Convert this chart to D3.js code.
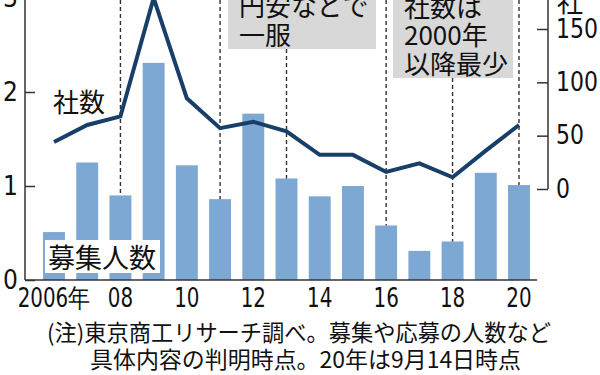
<!DOCTYPE html>
<html>
<head>
<meta charset="utf-8">
<script src="https://cdn.jsdelivr.net/npm/d3@7"></script>
<style>
  body { margin: 0; background: #fff; }
  svg { display: block; }
  .num { font-family: "Liberation Sans Narrow", "DejaVu Sans Condensed", "Liberation Sans", sans-serif; }
  .jp { font-family: "Noto Sans CJK JP", sans-serif; }
</style>
</head>
<body>
<div id="chart"></div>
<script>
// data
const years = [2006, 2007, 2008, 2009, 2010, 2011, 2012, 2013, 2014, 2015, 2016, 2017, 2018, 2019, 2020];
const recruits = [0.51, 1.25, 0.90, 2.31, 1.22, 0.86, 1.77, 1.08, 0.89, 1.00, 0.58, 0.31, 0.41, 1.14, 1.01]; // 募集人数 (left axis)
const companies = [44, 60, 68, 179, 85, 57, 63, 54, 32, 32, 16, 24, 11, 36, 60]; // 社数 (right axis)
const leftTicks = [0, 1, 2, 3];
const rightTicks = [0, 50, 100, 150];
const xTickYears = [2006, 2008, 2010, 2012, 2014, 2016, 2018, 2020];
const dashedYears = [2008, 2011, 2013, 2016, 2018, 2020];
const notes = ["(注)東京商工リサーチ調べ。募集や応募の人数など", "具体内容の判明時点。20年は9月14日時点"];

const width = 600, height = 375;

const svg = d3.select("#chart").append("svg")
    .attr("width", width)
    .attr("height", height);

const x = d3.scaleBand()
    .domain(years)
    .range([37.4, 535.6])
    .paddingInner(0.34)
    .paddingOuter(0.17);

const yL = d3.scaleLinear().domain([0, 3]).range([280, -2]);
const yR = d3.scaleLinear().domain([0, 150]).range([189, 29]);

const cx = d => x(d) + x.bandwidth() / 2;

// bars
svg.append("g").selectAll("rect")
    .data(years)
    .join("rect")
    .attr("x", d => x(d))
    .attr("width", x.bandwidth())
    .attr("y", (d, i) => yL(recruits[i]))
    .attr("height", (d, i) => yL(0) - yL(recruits[i]))
    .attr("fill", "#7ea8d4");

// annotation boxes (top clipped in the original)
const boxes = [
    { x0: 228, x1: 376, bottom: 49, lines: ["円安などで", "一服"] },
    { x0: 393, x1: 513, bottom: 78, lines: ["社数は", "2000年", "以降最少"] }
];

// dashed guide lines
const boxFor = { 2013: boxes[0], 2018: boxes[1] };
svg.append("g").selectAll("line")
    .data(dashedYears)
    .join("line")
    .attr("x1", cx).attr("x2", cx)
    .attr("y1", d => boxFor[d] ? boxFor[d].bottom : 0)
    .attr("y2", d => yL(recruits[years.indexOf(d)]))
    .attr("stroke", "#333")
    .attr("stroke-width", 1.4)
    .attr("stroke-dasharray", "4,3");

boxes.forEach(b => {
    const g = svg.append("g");
    g.append("rect")
        .attr("x", b.x0).attr("y", -10)
        .attr("width", b.x1 - b.x0).attr("height", b.bottom + 10)
        .attr("fill", "#d8d8d8");
    g.selectAll("text")
        .data(b.lines)
        .join("text")
        .attr("class", "jp")
        .attr("x", b.x0 + 11)
        .attr("y", (d, i) => b.bottom - 16 - (b.lines.length - 1 - i) * 28.5)
        .attr("dominant-baseline", "central")
        .attr("font-size", 26)
        .attr("fill", "#111")
        .text(d => d);
});

// company count line
const line = d3.line()
    .x((d, i) => cx(years[i]))
    .y(d => yR(d));

svg.append("path")
    .datum(companies)
    .attr("d", line)
    .attr("fill", "none")
    .attr("stroke", "#173f68")
    .attr("stroke-width", 4)
    .attr("stroke-linejoin", "miter");

// left axis
const axL = svg.append("g")
    .attr("transform", "translate(25,0)")
    .call(d3.axisLeft(yL).tickValues(leftTicks).tickSize(-10).tickPadding(7).tickFormat(d3.format("d")));
axL.select(".domain").remove();
axL.append("line").attr("y1", 0).attr("y2", 280).attr("stroke", "#333").attr("stroke-width", 1.5);

// right axis
const axR = svg.append("g")
    .attr("transform", "translate(548,0)")
    .call(d3.axisRight(yR).tickValues(rightTicks).tickSize(-11).tickPadding(8));
axR.select(".domain").remove();
axR.append("line").attr("y1", 0).attr("y2", 189).attr("stroke", "#333").attr("stroke-width", 1.5);

// bottom axis
const axB = svg.append("g")
    .attr("transform", "translate(0,280)")
    .call(d3.axisBottom(x).tickValues(xTickYears).tickSize(0).tickPadding(7)
        .tickFormat(d => d === 2006 ? "2006年" : String(d).slice(2)));
axB.select(".domain").remove();
axB.append("line").attr("x1", 25).attr("x2", 537).attr("stroke", "#333").attr("stroke-width", 1.5);

[axL, axR, axB].forEach(a => {
    a.selectAll(".tick line").attr("stroke", "#333").attr("stroke-width", 1.5);
    a.selectAll(".tick text")
        .attr("class", "num")
        .attr("font-size", 26)
        .attr("fill", "#111");
});
axB.selectAll(".tick text").attr("dy", "0.75em");

// the original uses a condensed face for numbers
function squeeze(sel, k) {
    sel.each(function () {
        const w = this.getComputedTextLength();
        d3.select(this).attr("textLength", w * k).attr("lengthAdjust", "spacingAndGlyphs");
    });
}
squeeze(axB.selectAll(".tick text"), 0.85);
squeeze(axR.selectAll(".tick text"), 0.94);

// series labels
svg.append("text").attr("class", "jp")
    .attr("x", 53).attr("y", 100)
    .attr("dominant-baseline", "central")
    .attr("font-size", 26).attr("fill", "#111")
    .text("社数");

svg.append("rect")
    .attr("x", 45).attr("y", 240)
    .attr("width", 115).attr("height", 33)
    .attr("fill", "#fff");
svg.append("text").attr("class", "jp")
    .attr("x", 48).attr("y", 256)
    .attr("dominant-baseline", "central")
    .attr("font-size", 27).attr("fill", "#111")
    .text("募集人数");

// right axis unit (top clipped)
svg.append("text").attr("class", "jp")
    .attr("x", 557).attr("y", 0)
    .attr("dominant-baseline", "central")
    .attr("font-size", 26).attr("fill", "#111")
    .text("社");

// notes
const noteX = [47, 90], noteW = [504, 431];
svg.selectAll(".note")
    .data(notes)
    .join("text")
    .attr("class", "note jp")
    .attr("x", (d, i) => noteX[i])
    .attr("y", (d, i) => 331 + i * 27)
    .attr("dominant-baseline", "central")
    .attr("font-size", 22.5)
    .attr("textLength", (d, i) => noteW[i])
    .attr("lengthAdjust", "spacingAndGlyphs")
    .attr("fill", "#111")
    .text(d => d);
</script>
</body>
</html>
